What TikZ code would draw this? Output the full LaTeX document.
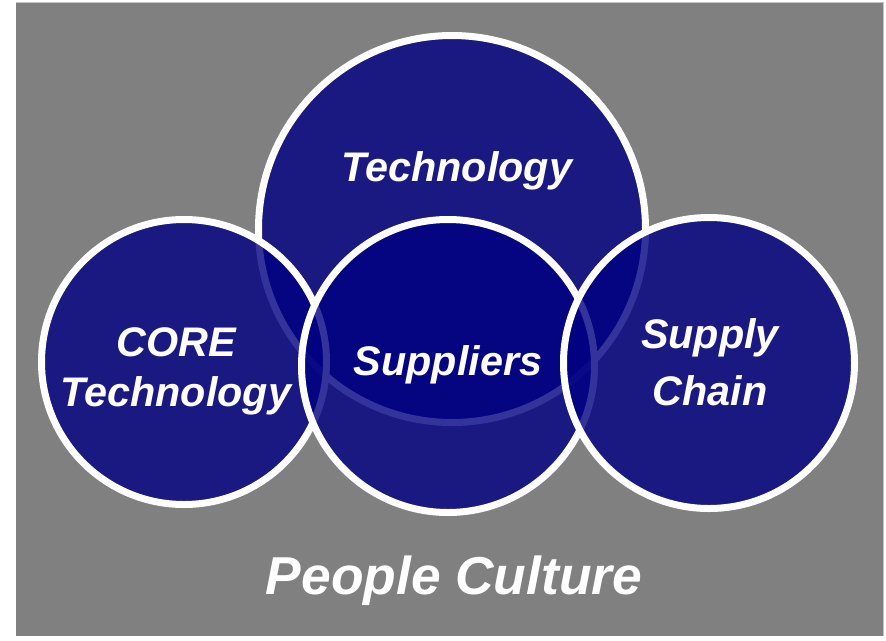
\documentclass[tikz,border=0pt]{standalone}
\usepackage{fontspec}
\setmainfont{Liberation Sans}
\usetikzlibrary{positioning}
\definecolor{slate}{RGB}{128,128,128}
\definecolor{slateedge}{RGB}{196,196,196}
\definecolor{royal}{RGB}{0,0,130}
\tikzset{
  bubble/.style={circle,draw=white,line width=5.25pt,fill=royal,fill opacity=0.8,draw opacity=1,inner sep=0pt,minimum size=#1*0.75pt},
  tag/.style={text=white,align=center,inner sep=0pt,font=\bfseries\itshape\fontsize{31}{37.5}\selectfont},
  caption/.style={tag,font=\bfseries\itshape\fontsize{40}{48}\selectfont}
}

\begin{document}
\begin{tikzpicture}[x=0.75pt,y=-0.75pt]
  \useasboundingbox (0,0) rectangle (886,640);
  \fill[slate] (16,2) rectangle (884,636);
  \draw[slateedge,line width=0.75pt] (16,2.4) -- (883.6,2.4) -- (883.6,636);

  % circles, back to front
  \node[bubble=387] (tech) at (452,229) {};
  \node[bubble=285] (core) at (184,362) {};
  \node[bubble=293] (sup) at (448,366) {};
  \node[bubble=291] (chain) at (709,363) {};

  % texts
  \node[tag] (techtxt) at (457,171) {Technology};
  \node[tag] (coretxt) at (176,371) {CORE\\Technology};
  \node[tag] (suptxt) at (448,365) {Suppliers};
  \node[tag] (chaintxt) at (710,362) {Supply\\[5pt]Chain};
  \node[caption] (people) at (454,581) {People Culture};
\end{tikzpicture}
\end{document}
